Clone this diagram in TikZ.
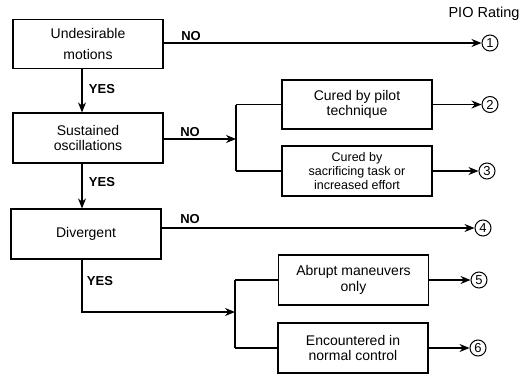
\documentclass[tikz,border=0pt]{standalone}
\usepackage{fontspec}
\setmainfont{Liberation Sans}
\usetikzlibrary{arrows.meta}
\begin{document}
\begin{tikzpicture}[x=1pt,y=-1pt,
 box/.style={draw, line width=1.2pt, minimum width=150pt, minimum height=49pt, align=center, inner sep=0pt, font=\fontsize{14}{15.5}\selectfont},
 lbl/.style={font=\bfseries\fontsize{13}{15}\selectfont, inner sep=0pt},
 rate/.style={draw, circle, line width=1pt, minimum size=16pt, inner sep=0pt, font=\fontsize{13}{15}\selectfont},
 conn/.style={line width=1.1pt},
 arr/.style={conn, -{Stealth[length=10pt,width=8pt]}},
]
\useasboundingbox (0,0) rectangle (523,376);
% decision boxes
\node[box] (b1) at (88,44) {Undesirable\\[5pt]motions};
\node[box, minimum height=50pt] (b2) at (88,138) {Sustained\\oscillations};
\node[box, minimum height=50pt] (b3) at (86,234) {Divergent};
% outcome boxes
\node[box] (c2a) at (357,104.5) {Cured by pilot\\technique};
\node[box, minimum height=50pt, font=\fontsize{12.5}{14}\selectfont] (c2b) at (357,171) {Cured by\\sacrificing task or\\increased effort};
\node[box, minimum height=50pt] (c3a) at (353.5,280) {Abrupt maneuvers\\only};
\node[box, minimum height=50pt] (c3b) at (353,348) {Encountered in\\normal control};
% ratings
\node[font=\fontsize{14.5}{16}\selectfont, anchor=east] (pio) at (523,14) {PIO Rating};
\node[rate] (r1) at (490,43) {1};
\node[rate] (r2) at (490,104.5) {2};
\node[rate] (r3) at (487,171) {3};
\node[rate] (r4) at (483,228) {4};
\node[rate] (r5) at (479,280) {5};
\node[rate] (r6) at (478,348) {6};
% junction coordinates
\coordinate (v) at (82,0);
\coordinate (j2) at (236,139);
\coordinate (j2t) at (236,104.5);
\coordinate (j2b) at (236,171);
\coordinate (j3) at (235,312);
\coordinate (j3t) at (235,280);
\coordinate (j3b) at (235,348);
% connectors
\draw[arr] (b1.south -| v) -- (b2.north -| v);
\draw[arr] (b2.south -| v) -- (b3.north -| v);
\draw[arr] (b1.east |- r1.west) -- (r1.west);
\draw[arr] (b2.east |- j2) -- (j2);
\draw[conn] (j2t) -- (j2b);
\draw[conn] (j2t) -- (c2a.west);
\draw[conn] (j2b) -- (c2b.west);
\draw[arr] (c2a.east) -- (r2.west);
\draw[arr] (c2b.east) -- (r3.west);
\draw[arr] (b3.east |- r4.west) -- (r4.west);
\draw[arr] (b3.south -| v) |- (j3);
\draw[conn] (j3t) -- (j3b);
\draw[conn] (j3t) -- (c3a.west);
\draw[conn] (j3b) -- (c3b.west);
\draw[arr] (c3a.east) -- (r5.west);
\draw[arr] (c3b.east) -- (r6.west);
% labels
\node[lbl] (n1) at (191,36) {NO};
\node[lbl] (n2) at (190,132) {NO};
\node[lbl] (n3) at (190,219) {NO};
\node[lbl] (y1) at (102,89) {YES};
\node[lbl] (y2) at (102,182) {YES};
\node[lbl] (y3) at (100,281) {YES};
\end{tikzpicture}
\end{document}
